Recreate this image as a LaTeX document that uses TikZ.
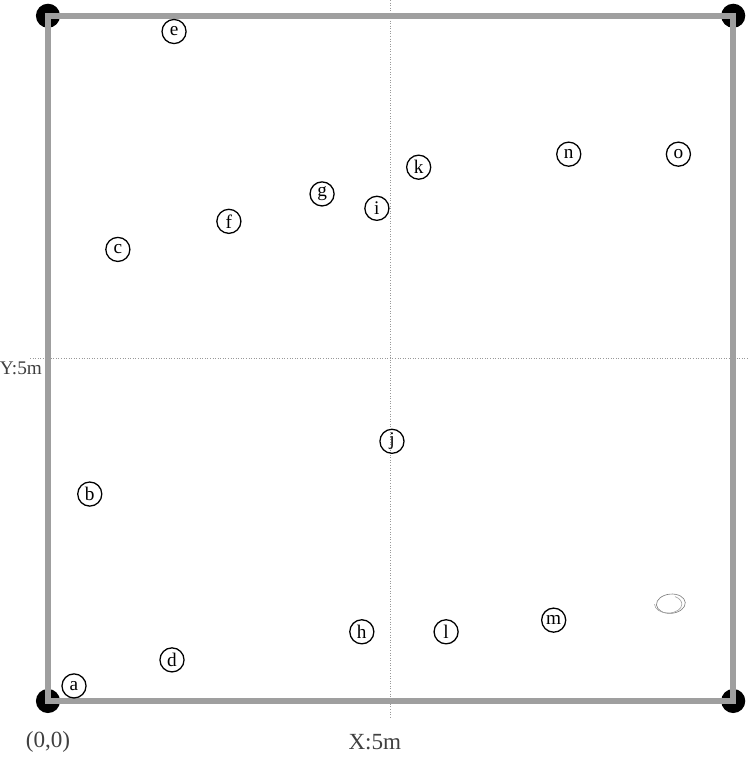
\documentclass[tikz,border=0pt]{standalone}
\usepackage{fontspec}
\setmainfont{Liberation Serif}
\usetikzlibrary{positioning, calc, shapes.geometric}

\begin{document}
\begin{tikzpicture}[
        x=1.5cm, y=1.5cm,
        wall/.style={draw=gray!75, line width=3.6pt, line join=miter},
        axisline/.style={draw=gray!80, densely dotted, line width=0.6pt},
        corner/.style={circle, fill=black, inner sep=0pt, minimum size=15pt},
        spot/.style={draw, circle, thick, inner sep=0pt, minimum size=15pt, font=\large},
        tag/.style={font=\Large, text=black!75}
    ]
    \useasboundingbox (-0.70,-0.89) rectangle (10.23,10.23);

    % center lines
    \coordinate (Vtop) at (5,10.23);
    \coordinate (Vbot) at (5,-0.25);
    \coordinate (Hleft) at (-0.26,5);
    \coordinate (Hright) at (10.23,5);
    \draw[axisline] (Vtop) -- (Vbot);
    \draw[axisline] (Hleft) -- (Hright);

    % corners
    \node[corner] (C00) at (0,0) {};
    \node[corner] (C10) at (10,0) {};
    \node[corner] (C11) at (10,10) {};
    \node[corner] (C01) at (0,10) {};
    \draw[wall] (C00.center) -- (C10.center) -- (C11.center) -- (C01.center) -- cycle;

    % labels
    \node[tag] (Origin) at (0,-0.60) {(0,0)};
    \node[tag] (Xlab) at (4.77,-0.60) {X:5m};
    \node[tag, font=\large, anchor=east, inner sep=1pt] (Ylab) at (-0.06,4.86) {Y:5m};

    % points
    \foreach \name/\px/\py in {a/0.38/0.22, b/0.61/3.02, c/1.02/6.59, d/1.81/0.60,
        e/1.84/9.77, f/2.64/7.00, g/4.00/7.40, h/4.58/1.01, i/4.80/7.19,
        j/5.02/3.79, k/5.41/7.79, l/5.81/1.01, m/7.38/1.18, n/7.60/7.98, o/9.20/7.98}
        \node[spot] (P\name) at (\px,\py) {\name};

    % faint mark
    \node[draw=gray, ellipse, inner sep=0pt, minimum width=18pt, minimum height=12pt, thin, rotate=5] (Mark) at (9.09,1.42) {};
    \draw[gray!70, thin] ([xshift=-1pt,yshift=0.5pt]Mark.west) arc (180:420:8.5pt and 5.5pt);

\end{tikzpicture}
\end{document}
